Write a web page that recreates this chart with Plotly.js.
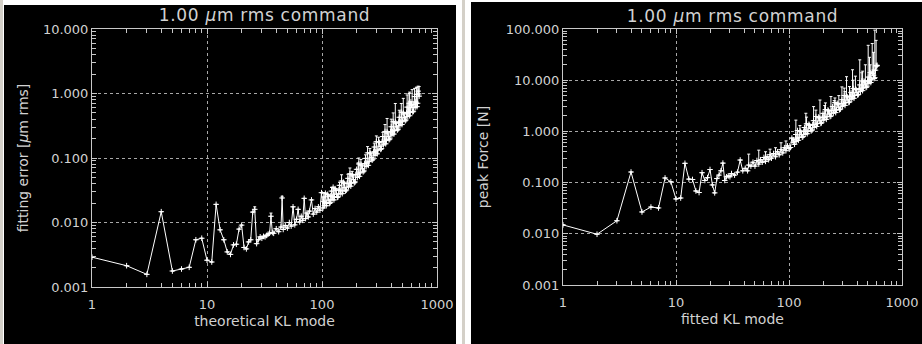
<!DOCTYPE html>
<html><head><meta charset="utf-8">
<script src="https://cdn.plot.ly/plotly-3.0.1.min.js"></script>
<style>
html,body{margin:0;padding:0;background:#ffffff;width:922px;height:344px;overflow:hidden;}
#strip{position:absolute;left:0;top:0;width:3px;height:344px;background:#d4d0c8;}
#strip2{position:absolute;left:462px;top:0;width:3px;height:344px;background:#d4d0c8;}
#p1{position:absolute;left:4px;top:5px;width:452px;height:339px;}
#p2{position:absolute;left:471px;top:2px;width:451px;height:342px;}
.gtitle{letter-spacing:0.7px;}
</style></head><body>
<div id="strip"></div><div id="strip2"></div>
<div id="p1"></div><div id="p2"></div>
<script>
// ---------- LEFT: theoretical KL mode vs fitting error [um rms] ----------
const modesL = [1,2,3,4,5,6,7,8,9,10,11,12,13,14,15,16,17,18,19,20,21,22,23,24,25,26,27,28,29,30,31,32,33,34,35,36,37,
 38,40,42,44,45,46,48,50,52,54,56,58,60,62,64,66,68,70,72,74,76,78,81,84,87,90,93,96,99,
 102,104,106,109,112,115,118,121,124,127,130,134,138,142,146,150,154,158,163,168,173,178,183,188,194,200,206,212,218,225,232,239,246,253,261,269,277,285,293,302,311,320,329,338,348,358,368,378,389,400,411,422,434,446,458,470,483,496,509,522,536,550,564,578,593,608,623,638,654,670,686,700];
const errL = [0.0029,0.00214,0.00157,0.0147,0.00177,0.0019,0.00202,0.0054,0.0057,0.0026,0.00244,0.0191,0.0077,0.0054,0.0035,0.0032,0.0045,0.0046,0.0079,0.0091,0.0041,0.0039,0.0050,0.0054,0.0145,0.0160,0.0047,0.0054,0.0060,0.0057,0.0061,0.0060,0.0063,0.0066,0.0068,0.0125,0.0070,
 0.0068,0.0080,0.0072,0.0085,0.0240,0.0078,0.0090,0.0082,0.0100,0.0088,0.0175,0.0092,0.0112,0.0160,0.0102,0.0125,0.0108,0.0237,0.0115,0.0140,0.0122,0.0150,0.0224,0.0135,0.0165,0.0145,0.0175,0.0155,0.0290,
 0.0168,0.0249,0.0202,0.0182,0.0273,0.0223,0.0203,0.0307,0.0251,0.0224,0.0335,0.0276,0.0250,0.0377,0.0311,0.0280,0.0421,0.0347,0.0318,0.0484,0.0403,0.0366,0.0557,0.0462,0.0425,0.0667,0.0564,0.0520,0.0798,0.0679,0.0630,0.0986,0.0840,0.0770,0.120,0.102,0.096,0.148,0.124,0.116,0.180,0.152,0.140,0.215,0.181,0.166,0.255,0.214,0.198,0.305,0.255,0.235,0.361,0.304,0.279,0.428,0.359,0.330,0.505,0.421,0.388,0.615,0.516,0.452,0.741,0.606,0.530,0.896,0.738,0.625,1.089,0.910];
// modes in between the ones above (dense part of the band)
const modesL2 = [103,105,107,110,113,116,119,122,125,128,132,136,140,144,148,152,156,160,165,170,175,180,185,191,197,203,209,215,221,228,235,242,249,257,265,273,281,289,297,306,315,324,333,343,353,363,373,383,394,405,416,428,440,452,464,476,489,502,515,529,543,557,571,585,600,615,630,646,662,678,693];
const errL2 = [0.0213,0.0183,0.0285,0.0202,0.0257,0.0197,0.0258,0.0225,0.0352,0.0249,0.0317,0.0245,0.0319,0.0278,0.0440,0.0314,0.0400,0.0308,0.0405,0.0357,0.0570,0.0410,0.0528,0.0413,0.0553,0.0499,0.0808,0.0589,0.0770,0.0610,0.0819,0.0735,0.120,0.0880,0.116,0.0925,0.124,0.110,0.179,0.132,0.173,0.136,0.180,0.160,0.258,0.188,0.244,0.192,0.255,0.227,0.365,0.266,0.346,0.271,0.359,0.318,0.514,0.373,0.482,0.377,0.499,0.441,0.706,0.512,0.663,0.518,0.681,0.604,0.971,0.706,0.986];
const barModesL = [26,36,45,104,121,142,148,168,175,183,206,209,218,239,249,261,285,297,311,338,353,368,400,416,434,470,489,509,550,571,578,608,638,662,670,686,700];
const barTopsL  = [0.0175,0.0140,0.0255,0.029,0.035,0.042,0.055,0.056,0.070,0.062,0.084,0.100,0.095,0.112,0.150,0.140,0.170,0.220,0.210,0.250,0.330,0.410,0.400,0.500,0.700,0.550,0.700,0.840,0.950,1.000,1.050,1.150,1.200,1.250,1.250,1.300,1.280];

// ---------- RIGHT: fitted KL mode vs peak Force [N] ----------
const modesR = [1,2,3,4,5,6,7,8,9,10,11,12,13,14,15,16,17,18,19,20,21,22,23,24,25,26,27,28,29,30,31,
 33,35,37,39,41,43,44,46,48,50,52,54,56,58,60,62,64,66,68,70,73,76,79,82,85,88,91,94,97,100,
 103,106,109,112,115,118,121,125,129,133,137,141,145,150,155,160,165,170,176,182,188,194,200,207,214,221,228,235,243,251,259,267,276,285,294,303,313,323,333,343,354,365,376,387,399,411,423,435,448,461,474,488,502,516,530,545,560,575,590,603];
const forceR = [0.0149,0.0098,0.018,0.161,0.0267,0.0333,0.032,0.123,0.104,0.048,0.050,0.238,0.117,0.115,0.0686,0.064,0.156,0.11,0.125,0.18,0.09,0.063,0.12,0.14,0.17,0.24,0.11,0.13,0.135,0.13,0.15,
 0.14,0.16,0.276,0.17,0.19,0.17,0.22,0.21,0.25,0.21,0.27,0.23,0.28,0.25,0.31,0.26,0.32,0.28,0.35,0.30,0.37,0.32,0.40,0.35,0.44,0.38,0.48,0.42,0.52,0.46,
 0.485,0.740,0.615,0.560,0.870,0.736,0.670,1.03,0.86,0.79,1.19,0.99,0.90,1.38,1.15,1.06,1.62,1.36,1.25,1.91,1.61,1.47,2.25,1.87,1.72,2.62,2.19,2.00,3.05,2.54,2.33,3.55,2.97,2.72,4.16,3.51,3.22,4.93,4.12,3.77,5.77,4.83,4.44,6.82,5.73,5.27,8.08,6.76,6.25,9.60,8.05,7.45,11.5,9.72,9.00,14.5,12.5,11.2,19.4,19.5];
const modesR2 = [110,116,119,123,127,131,135,139,143,147,152,157,162,167,173,179,185,191,197,203,210,217,224,231,239,247,255,263,271,280,289,298,308,318,328,338,348,359,370,381,393,405,417,429,441,454,467,481,495,509,523,537,552,567,582,596];
const forceR2 = [0.688,0.641,1.04,0.759,0.986,0.770,1.00,0.882,1.41,1.01,1.31,1.02,1.35,1.20,1.95,1.42,1.84,1.43,1.89,1.67,2.67,1.94,2.50,1.95,2.56,2.28,3.65,2.63,3.39,2.65,3.50,3.11,5.02,3.64,4.71,3.66,4.83,4.28,6.91,5.03,6.55,5.12,6.78,6.01,9.65,7.06,9.18,7.23,9.65,8.61,14.0,10.2,13.5,10.8,15.7,18.8];
const barModesR = [44,54,62,68,76,85,94,115,125,141,143,165,173,188,207,210,235,251,255,276,294,308,313,323,343,365,370,387,423,441,448,474,502,516,523,545,560,575,590];
const barTopsR  = [0.36,0.43,0.40,0.45,0.48,0.60,0.65,1.66,1.30,2.26,1.90,3.05,2.60,4.10,3.20,3.60,4.80,4.00,4.50,5.00,7.40,7.00,6.00,11.7,7.50,16.0,10.0,12.0,25.0,14.0,15.0,20.0,48.0,28.0,20.0,52.0,35.0,95.0,60.0];

// ---------- tick labels ----------
const xTickVals = [1,10,100,1000];
const xTickText = ['1','10','100','1000'];
const yTickValsL = [0.001,0.01,0.1,1,10];
const yTickTextL = ['0.001','0.010','0.100','1.000','10.000'];
const yTickValsR = [0.001,0.01,0.1,1,10,100];
const yTickTextR = ['0.001','0.010','0.100','1.000','10.000','100.000'];

const titleText = '1.00 <i>\u03bc</i>m rms command';

function minorVals(lo, hi){ // minor tick positions 2..9 in each decade
  const v=[]; for(let e=lo;e<hi;e++){ for(let k=2;k<=9;k++) v.push(k*Math.pow(10,e)); } return v;
}
function merge(m1, v1, m2, v2){
  const p = m1.map((m,i)=>[m,v1[i]]).concat(m2.map((m,i)=>[m,v2[i]]));
  p.sort((a,b)=>a[0]-b[0]);
  return [p.map(q=>q[0]), p.map(q=>q[1])];
}
function barArray(modes, vals, bm, bt){
  return modes.map((m,i)=>{ const j=bm.indexOf(m); return j>=0 ? Math.max(bt[j]-vals[i],0) : 0; });
}
const FONT = 'DejaVu Sans, Liberation Sans, sans-serif';
const TXT = '#d2d2d2';
const AX = '#c8c8c8';

function trace(x, y, e){
  return {x:x, y:y, type:'scatter', mode:'lines+markers',
    line:{color:'#ffffff', width:1},
    marker:{symbol:'cross-thin', size:4, color:'#ffffff', line:{color:'#ffffff', width:1}},
    error_y:{type:'data', symmetric:false, array:e, arrayminus:e.map(()=>0), color:'#ffffff', thickness:1, width:1.5},
    hoverinfo:'skip', showlegend:false};
}
function axis(common){
  return Object.assign({type:'log', showline:true, linecolor:AX, linewidth:1, mirror:'allticks',
    ticks:'inside', ticklen:5, tickcolor:AX, tickwidth:1,
    showgrid:true, gridcolor:'#a8a8a8', griddash:'dot', gridwidth:1, zeroline:false,
    tickfont:{family:FONT, size:13, color:TXT}, fixedrange:true}, common);
}
function layout(opts){
  return {
    width:opts.w, height:opts.h, paper_bgcolor:'#000000', plot_bgcolor:'#000000',
    margin:opts.m, showlegend:false,
    title:{text:titleText, font:{family:FONT, size:17, color:TXT}, x:0.5, xref:'paper', xanchor:'center', y:opts.ty, yref:'container', yanchor:'middle'},
    xaxis: axis({range:[0,3], tickmode:'array', tickvals:xTickVals, ticktext:xTickText, ticklabelstandoff:5, automargin:'bottom',
      minor:{tickmode:'array', tickvals:minorVals(0,3), ticks:'inside', ticklen:4, tickcolor:AX, showgrid:false},
      title:{text:opts.xt, font:{family:FONT, size:14, color:TXT}, standoff:5}}),
    yaxis: axis({range:opts.yr, tickmode:'array', tickvals:opts.yv, ticktext:opts.yt, automargin:'left',
      minor:{tickmode:'array', tickvals:minorVals(opts.yr[0],opts.yr[1]), ticks:'inside', ticklen:4, tickcolor:AX, showgrid:false},
      title:{text:opts.ytitle, font:{family:FONT, size:14, color:TXT}, standoff:opts.ys}})
  };
}
const cfg = {displayModeBar:false, staticPlot:true};

const L = merge(modesL, errL, modesL2, errL2);
const R = merge(modesR, forceR, modesR2, forceR2);

Plotly.newPlot('p1', [trace(L[0], L[1], barArray(L[0], L[1], barModesL, barTopsL))],
  layout({w:452, h:339, m:{l:88, r:19, t:24, b:57}, ty:1-10/339, yr:[-3,1], yv:yTickValsL, yt:yTickTextL, ys:11,
          xt:'theoretical KL mode', ytitle:'fitting error [<i>\u03bc</i>m rms]'}), cfg);

Plotly.newPlot('p2', [trace(R[0], R[1], barArray(R[0], R[1], barModesR, barTopsR))],
  layout({w:451, h:342, m:{l:87, r:20, t:27, b:59}, ty:1-13.7/342, yr:[-3,2], yv:yTickValsR, yt:yTickTextR, ys:13,
          xt:'fitted KL mode', ytitle:'peak Force [N]'}), cfg);
</script>
</body></html>
